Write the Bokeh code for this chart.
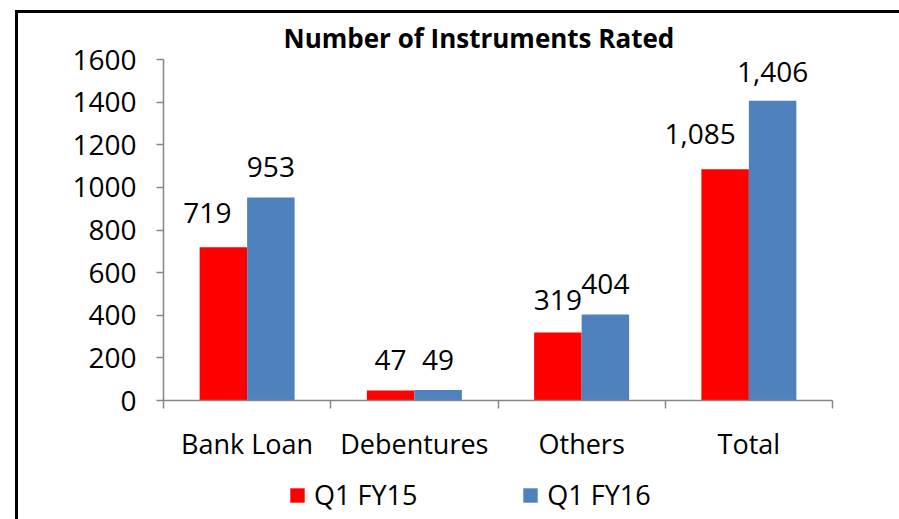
from bokeh.plotting import figure
from bokeh.layouts import column
from bokeh.models import (ColumnDataSource, Range1d, FixedTicker, LabelSet,
                          Legend, LegendItem)
from bokeh.transform import dodge
from bokeh.core.properties import value
from bokeh.embed import file_html
from bokeh.resources import INLINE

# ---------------- data ----------------
categories = ["Bank Loan", "Debentures", "Others", "Total"]
q1_fy15 = [719, 47, 319, 1085]
q1_fy16 = [953, 49, 404, 1406]
series_names = ["Q1 FY15", "Q1 FY16"]
y_ticks = [0, 200, 400, 600, 800, 1000, 1200, 1400, 1600]
title_text = "Number of Instruments Rated"

# ---------------- style ----------------
FONT = "Open Sans"
RED = "#FF0000"
BLUE = "#4F81BD"
AXIS_GRAY = "#868686"
BAR_W = 0.284
# manual data-label placement (pixels), as in the original chart
red_nudge_px = [-16, 0, 0, -25]
red_lift_px = [24, 20, 23, 25]
blue_lift_px = [20, 20, 20, 19]

n = len(categories)
centers = [i + 0.5 for i in range(n)]
src = ColumnDataSource(dict(
    cat=categories, xc=centers, a=q1_fy15, b=q1_fy16,
    a_txt=[f"{v:,}" for v in q1_fy15], b_txt=[f"{v:,}" for v in q1_fy16],
    a_nudge=red_nudge_px, a_lift=red_lift_px, b_lift=blue_lift_px,
))

p = figure(width=881, height=460, x_range=Range1d(0, n), y_range=Range1d(0, y_ticks[-1]),
           output_backend="svg", toolbar_location=None,
           min_border_left=145, min_border_right=67, min_border_top=46, min_border_bottom=73)
p.outline_line_color = None
p.grid.grid_line_color = None
p.background_fill_color = "white"
p.border_fill_color = "white"

# title
p.title.text = title_text
p.title.align = "left"
p.title.offset = 120
p.title.standoff = 8
p.title.text_font = FONT
p.title.text_font_style = "bold"
p.title.text_font_size = "26px"
p.title.text_color = "black"

r1 = p.vbar(x=dodge("xc", -BAR_W / 2), top="a", width=BAR_W, source=src,
            fill_color=RED, line_color=None)
r2 = p.vbar(x=dodge("xc", BAR_W / 2), top="b", width=BAR_W, source=src,
            fill_color=BLUE, line_color=None)

# data labels
p.add_layout(LabelSet(x=dodge("xc", -BAR_W / 2), y="a", text="a_txt", source=src,
                      x_offset="a_nudge", y_offset="a_lift",
                      text_align="center", text_baseline="alphabetic",
                      text_font=value(FONT), text_font_size="28px", text_color="black"))
p.add_layout(LabelSet(x=dodge("xc", BAR_W / 2), y="b", text="b_txt", source=src,
                      y_offset="b_lift",
                      text_align="center", text_baseline="alphabetic",
                      text_font=value(FONT), text_font_size="28px", text_color="black"))

# x axis: category names centred, tick marks at category boundaries
xa = p.xaxis[0]
xa.ticker = FixedTicker(ticks=centers, minor_ticks=list(range(n + 1)))
xa.major_label_overrides = {c: name for c, name in zip(centers, categories)}
xa.major_tick_out = 0
xa.major_tick_in = 0
xa.minor_tick_out = 8
xa.minor_tick_in = 0
xa.minor_tick_line_color = AXIS_GRAY
xa.minor_tick_line_width = 1.5
xa.axis_line_color = AXIS_GRAY
xa.axis_line_width = 1.5
xa.major_label_text_font = FONT
xa.major_label_text_font_size = "27px"
xa.major_label_text_color = "black"
xa.major_label_standoff = 16

ya = p.yaxis[0]
ya.ticker = FixedTicker(ticks=y_ticks)
ya.major_tick_out = 7
ya.major_tick_in = 0
ya.minor_tick_line_color = None
ya.major_tick_line_color = AXIS_GRAY
ya.major_tick_line_width = 1.5
ya.axis_line_color = AXIS_GRAY
ya.axis_line_width = 1.5
ya.major_label_text_font = FONT
ya.major_label_text_font_size = "28px"
ya.major_label_text_color = "black"
ya.major_label_standoff = 20

# legend strip (separate small figure so the legend is not clipped);
# its key renderers share the data but lie far outside the strip's view
lf = figure(width=881, height=46, x_range=Range1d(0, n), y_range=Range1d(5000, 6000),
            output_backend="svg", toolbar_location=None, min_border=0)
lf.axis.visible = False
lf.grid.visible = False
lf.outline_line_color = None
lf.background_fill_color = "white"
lf.border_fill_color = "white"
k1 = lf.vbar(x="xc", top="a", width=BAR_W, source=src, fill_color=RED, line_color=None)
k2 = lf.vbar(x="xc", top="b", width=BAR_W, source=src, fill_color=BLUE, line_color=None)
legend = Legend(items=[LegendItem(label=series_names[0], renderers=[k1]),
                       LegendItem(label=series_names[1], renderers=[k2])],
                orientation="horizontal", location=(125, 6),
                border_line_color=None, background_fill_alpha=0,
                padding=0, margin=0, spacing=104,
                glyph_width=18, glyph_height=18, label_standoff=8,
                label_text_font=FONT, label_text_font_size="27px",
                label_text_color="black")
lf.add_layout(legend)

# chart border (top and left edges visible in the original crop)
page = column(p, lf, spacing=0,
              styles={"margin-left": "15px", "margin-top": "10px",
                      "border-top": "3px solid black", "border-left": "3px solid black"})

open("out.html", "w").write(file_html(page, INLINE))
